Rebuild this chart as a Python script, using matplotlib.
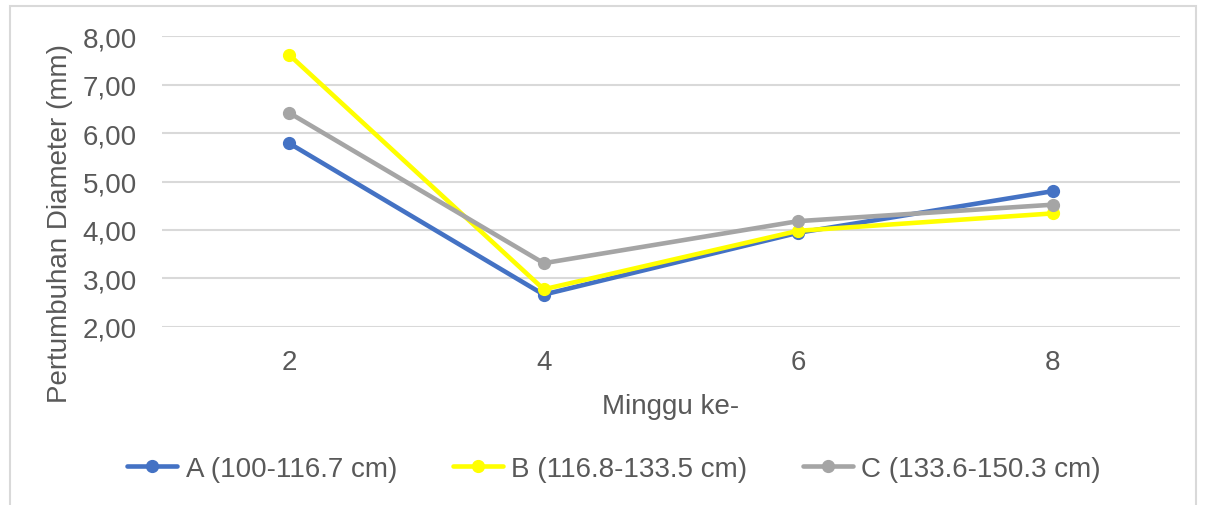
import matplotlib
matplotlib.use("Agg")
import matplotlib.pyplot as plt
from matplotlib.patches import Rectangle

weeks = ["2", "4", "6", "8"]
series_a = [5.79, 2.66, 3.94, 4.80]
series_b = [7.62, 2.77, 3.98, 4.34]
series_c = [6.42, 3.31, 4.18, 4.52]
labels = ["A (100-116.7 cm)", "B (116.8-133.5 cm)", "C (133.6-150.3 cm)"]
colors = ["#4472C4", "#FFFF00", "#A5A5A5"]
yticks = [2, 3, 4, 5, 6, 7, 8]

plt.rcParams["font.family"] = ["Liberation Sans", "DejaVu Sans"]

fig = plt.figure(figsize=(12.06, 5.06), dpi=100)
fig.patches.append(Rectangle((10 / 1206, -0.01), 1186 / 1206, 1 - 7 / 506 + 0.01,
                             transform=fig.transFigure, fill=False,
                             edgecolor="#D9D9D9", linewidth=1.5))
ax = fig.add_axes([162 / 1206, 1 - 328 / 506, 1018 / 1206, 291 / 506])

x = list(range(len(weeks)))
for vals, lab, col in zip([series_a, series_b, series_c], labels, colors):
    ax.plot(x, vals, color=col, lw=3.3, marker="o", markersize=8.5,
            label=lab, solid_capstyle="round")

ax.set_xlim(-0.5, len(weeks) - 0.5)
ax.set_xticks(x)
ax.set_xticklabels(weeks)
ax.set_yticks(yticks)
ax.set_yticklabels([f"{v:.2f}".replace(".", ",") for v in yticks])
ax.tick_params(length=0, labelsize=20, colors="#595959")
ax.tick_params(axis="y", pad=18)
ax.tick_params(axis="x", pad=16)
ax.grid(axis="y", color="#D9D9D9", lw=1.5)
ax.set_axisbelow(True)
for s in ax.spines.values():
    s.set_visible(False)
ax.set_ylim(1.99, 8.01)

ax.set_xlabel("Minggu ke-", fontsize=20, color="#595959", labelpad=13)
ax.set_ylabel("Pertumbuhan Diameter (mm)", fontsize=20, color="#595959")
ax.yaxis.set_label_coords(-0.087, 0.36)

fig.legend(loc="center", bbox_to_anchor=(614 / 1206, 1 - 470 / 506), ncol=3,
           frameon=False, fontsize=20, labelcolor="#595959",
           handlelength=1.8, handletextpad=0.3, columnspacing=2.0)

fig.savefig("out.png", dpi=100)
